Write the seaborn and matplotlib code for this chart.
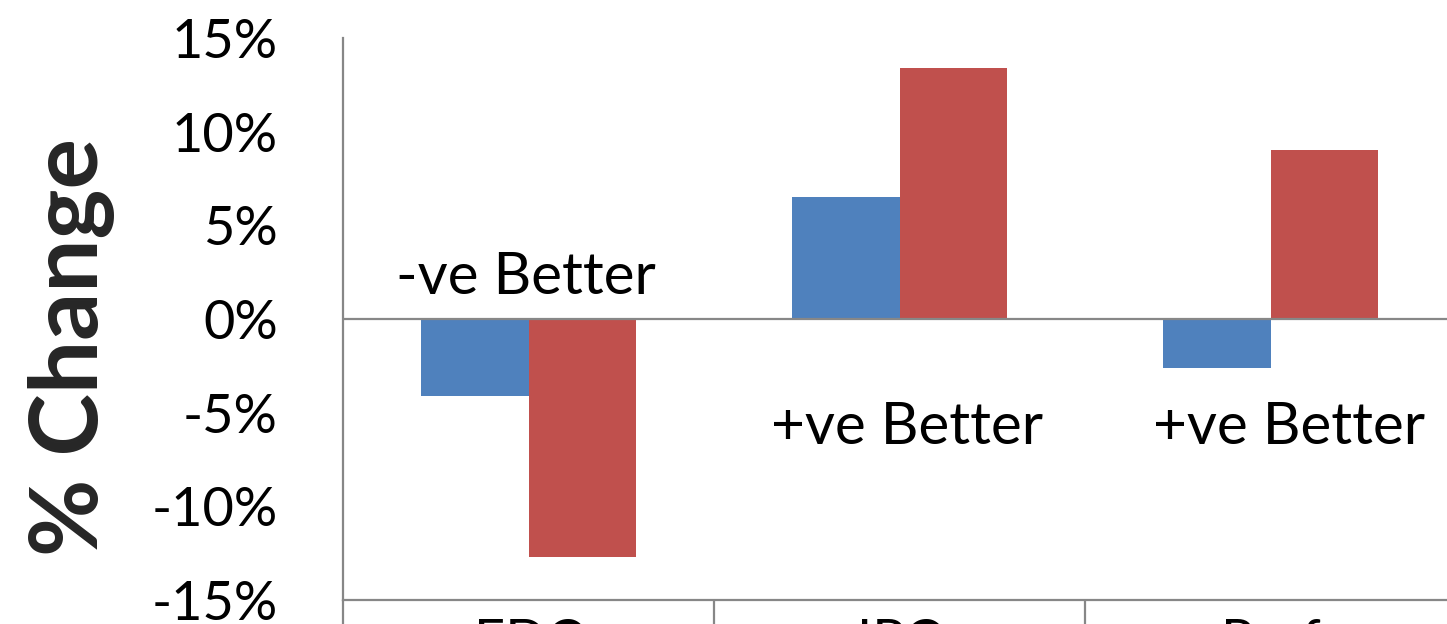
import matplotlib
matplotlib.use("Agg")
import matplotlib.pyplot as plt
import seaborn as sns
import pandas as pd
from matplotlib.ticker import FuncFormatter, FixedLocator

# Percent change per metric for the two configurations
categories = ["EDC", "IPC", "Perf"]
series_names = ["Config A", "Config B"]
config_a = [-4.1, 6.5, -2.6]
config_b = [-12.7, 13.4, 9.0]
notes = ["-ve Better", "+ve Better", "+ve Better"]
yticks = [-15, -10, -5, 0, 5, 10, 15]

df = pd.DataFrame({
    "metric": categories * 2,
    "series": [series_names[0]] * 3 + [series_names[1]] * 3,
    "change": config_a + config_b,
})

sns.set_theme(style="white")
plt.rcParams["font.family"] = ["Lato", "DejaVu Sans"]

W, H = 1447, 624
fig = plt.figure(figsize=(W / 100, H / 100), dpi=100)
ax = fig.add_axes([343 / W, 24 / H, 1113 / W, 562 / H])

palette = {"Config A": "#4F81BD", "Config B": "#C0504D"}
sns.barplot(data=df, x="metric", y="change", hue="series", order=categories,
            palette=palette, width=0.577, saturation=1, ax=ax, legend=False,
            edgecolor="none", linewidth=0)

grey = "#878787"
ax.set_xlim(-0.5, 2.5)
ax.set_ylim(-15, 15)
ax.axhline(0, color=grey, lw=1.6, zorder=3)

ax.set_yticks(yticks)
ax.yaxis.set_major_formatter(FuncFormatter(lambda v, p: f"{int(v)}%"))
ax.tick_params(axis="y", length=0, pad=47, labelsize=39, labelcolor="black")
ax.set_ylabel("% Change", fontsize=68, fontweight="bold", labelpad=26)
ax.yaxis.label.set_y(0.45)

ax.set_xlabel("")
ax.tick_params(axis="x", which="major", length=0, pad=13, labelsize=39,
               labelcolor="black")
ax.xaxis.set_minor_locator(FixedLocator([-0.5, 0.5, 1.5, 2.5]))
ax.tick_params(axis="x", which="minor", bottom=True, length=40, width=1.6,
               color=grey, direction="out")

for side in ("top", "right"):
    ax.spines[side].set_visible(False)
for side in ("left", "bottom"):
    ax.spines[side].set_color(grey)
    ax.spines[side].set_linewidth(1.6)

# Direction notes for each metric
note_pos = [(-0.007, 2.2), (1.02, -5.8), (2.05, -5.8)]
for (x, y), txt in zip(note_pos, notes):
    ax.text(x, y, txt, ha="center", va="center", fontsize=42, color="black")

fig.savefig("out.png", dpi=100)
